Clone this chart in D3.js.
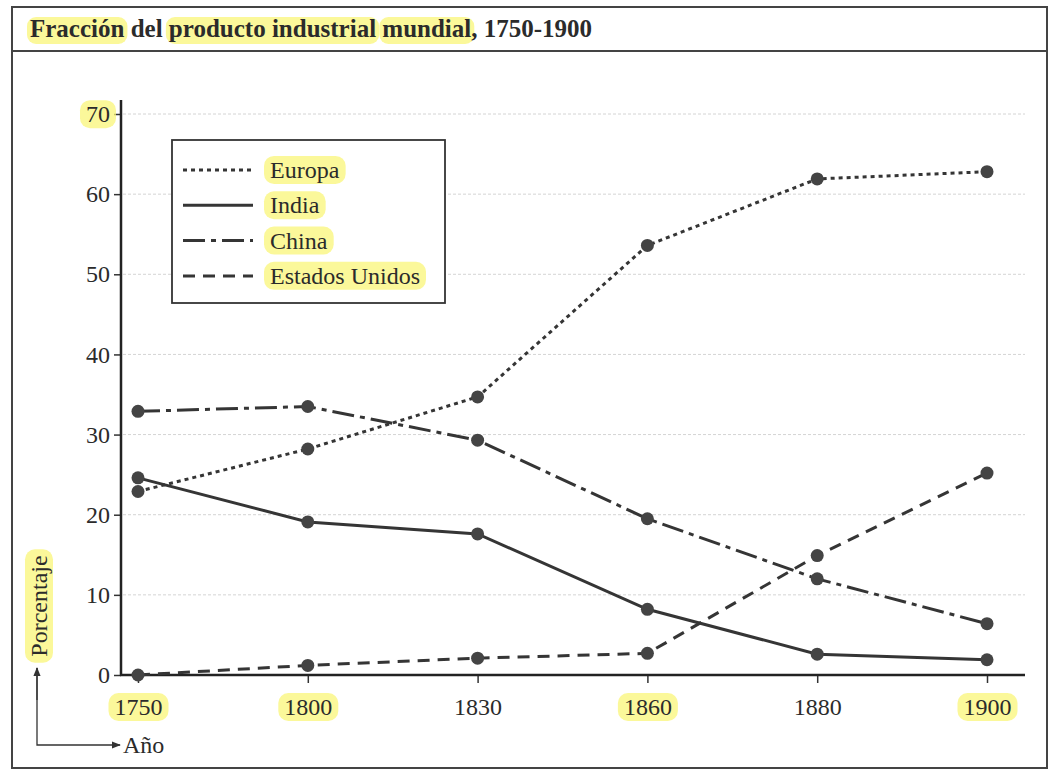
<!DOCTYPE html>
<html>
<head>
<meta charset="utf-8">
<script src="https://cdn.jsdelivr.net/npm/d3@7"></script>
<style>
  body { margin: 0; background: #fff; }
  svg text { font-family: "Liberation Serif", "DejaVu Serif", serif; fill: #2b2b2b; }
</style>
</head>
<body>
<svg id="chart" width="1052" height="771"></svg>
<script>
// Data (share of world industrial output, %)
var years    = ["1750", "1800", "1830", "1860", "1880", "1900"];
var europa   = [22.9, 28.2, 34.7, 53.6, 61.9, 62.8];
var india    = [24.6, 19.1, 17.6, 8.2, 2.6, 1.9];
var china    = [32.9, 33.5, 29.3, 19.5, 12.0, 6.4];
var eeuu     = [0.0, 1.2, 2.1, 2.7, 14.9, 25.2];
var yTicks   = [0, 10, 20, 30, 40, 50, 60, 70];
var seriesNames = ["Europa", "India", "China", "Estados Unidos"];
var title = "Fracción del producto industrial mundial, 1750-1900";

var dashes = {
	"Europa": "4,4",
	"India": null,
	"China": "22,6,5,6",
	"Estados Unidos": "12,8"
};

var series = [
	{ name: "Europa", values: europa },
	{ name: "India", values: india },
	{ name: "China", values: china },
	{ name: "Estados Unidos", values: eeuu }
];

var svg = d3.select("#chart");
var hl = "rgba(250,246,120,0.75)";

var x = d3.scalePoint().domain(years).range([138, 987]);
var y = d3.scaleLinear().domain([0, 70]).range([675, 114]);

var titleHl = svg.append("g");

// frame + title bar
svg.append("rect")
	.attr("x", 12).attr("y", 7)
	.attr("width", 1035).attr("height", 761)
	.attr("fill", "none").attr("stroke", "#444").attr("stroke-width", 2);
svg.append("line")
	.attr("x1", 12).attr("x2", 1047).attr("y1", 51).attr("y2", 51)
	.attr("stroke", "#444").attr("stroke-width", 2);

var titleText = svg.append("text")
	.attr("x", 30).attr("y", 37)
	.style("font-size", "25px").style("font-weight", "bold")
	.text(title);

// highlighted parts of the title
["Fracción", "producto industrial", "mundial"].forEach(function(w) {
	var i = title.indexOf(w);
	var node = titleText.node();
	var x0 = 30 + (i > 0 ? node.getSubStringLength(0, i) : 0);
	var wd = node.getSubStringLength(i, w.length);
	titleHl.append("rect")
		.attr("x", x0 - 3).attr("y", 17).attr("width", wd + 6).attr("height", 27)
		.attr("rx", 9).attr("fill", hl);
});

// puts a highlighter mark behind a text, in the text's own coordinates
function highlightText(sel) {
	sel.each(function() {
		var node = this;
		var b = node.getBBox();
		d3.select(node.parentNode).insert("rect", function() { return node; })
			.attr("transform", node.getAttribute("transform"))
			.attr("x", b.x - 6).attr("y", b.y - 1)
			.attr("width", b.width + 12).attr("height", b.height + 2)
			.attr("rx", 10).attr("fill", hl);
	});
}

// grid
svg.append("g").selectAll("line")
	.data(yTicks.filter(function(d) { return d > 0; }))
	.enter().append("line")
	.attr("x1", 123).attr("x2", 1025)
	.attr("y1", function(d) { return y(d); })
	.attr("y2", function(d) { return y(d); })
	.attr("stroke", "#d4d4d4").attr("stroke-width", 1)
	.attr("stroke-dasharray", "3,2");

// axes
var yAxis = svg.append("g")
	.attr("transform", "translate(121,0)")
	.call(d3.axisLeft(y).tickValues(yTicks).tickSize(7).tickSizeOuter(0).tickPadding(4));
yAxis.select(".domain").remove();
yAxis.selectAll(".tick line").attr("stroke", "#333").attr("stroke-width", 1.5);
yAxis.selectAll("text").style("font-size", "24px").attr("fill", "#333");

var xAxis = svg.append("g")
	.attr("transform", "translate(0,675)")
	.call(d3.axisBottom(x).tickSize(8).tickSizeOuter(0).tickPadding(15));
xAxis.select(".domain").remove();
xAxis.selectAll(".tick line").attr("stroke", "#333").attr("stroke-width", 1.5);
xAxis.selectAll("text").style("font-size", "24px").attr("fill", "#333");

svg.append("line")
	.attr("x1", 121).attr("x2", 121).attr("y1", 100).attr("y2", 676)
	.attr("stroke", "#222").attr("stroke-width", 2.5);
svg.append("line")
	.attr("x1", 120).attr("x2", 1025).attr("y1", 675).attr("y2", 675)
	.attr("stroke", "#222").attr("stroke-width", 2.5);

highlightText(xAxis.selectAll(".tick text").filter(function(d) { return d != "1830" && d != "1880"; }));
highlightText(yAxis.selectAll(".tick text").filter(function(d) { return d == 70; }));

// lines + markers
var line = d3.line()
	.x(function(d, i) { return x(years[i]); })
	.y(function(d) { return y(d); });

var g = svg.append("g").selectAll("g")
	.data(series).enter().append("g");

g.append("path")
	.attr("d", function(d) { return line(d.values); })
	.attr("fill", "none")
	.attr("stroke", "#353535")
	.attr("stroke-width", 3)
	.attr("stroke-dasharray", function(d) { return dashes[d.name]; });

g.selectAll("circle")
	.data(function(d) { return d.values; })
	.enter().append("circle")
	.attr("cx", function(d, i) { return x(years[i]); })
	.attr("cy", function(d) { return y(d); })
	.attr("r", 6.5)
	.attr("fill", "#444");

// legend
var legend = svg.append("g");
legend.append("rect")
	.attr("x", 172).attr("y", 140).attr("width", 273).attr("height", 163)
	.attr("fill", "#fff").attr("stroke", "#333").attr("stroke-width", 1.8);

var items = legend.selectAll("g.item")
	.data(seriesNames).enter().append("g")
	.attr("class", "item")
	.attr("transform", function(d, i) { return "translate(183," + (170 + i * 35.3) + ")"; });

items.append("line")
	.attr("x1", 0).attr("x2", 70)
	.attr("stroke", "#353535").attr("stroke-width", 3)
	.attr("stroke-dasharray", function(d) { return dashes[d]; });

var legendLabels = items.append("text")
	.attr("x", 87).attr("dy", "0.33em")
	.style("font-size", "24px").attr("fill", "#333")
	.text(function(d) { return d; });
highlightText(legendLabels);

// little axis key at bottom left
var defs = svg.append("defs");
defs.append("marker")
	.attr("id", "arr").attr("viewBox", "0 0 10 10")
	.attr("refX", 9).attr("refY", 5)
	.attr("markerWidth", 7).attr("markerHeight", 7)
	.attr("orient", "auto")
	.append("path").attr("d", "M0,1 L10,5 L0,9 Z").attr("fill", "#333");

svg.append("path")
	.attr("d", "M37,668 L37,745 L120,745")
	.attr("fill", "none").attr("stroke", "#333").attr("stroke-width", 1.3)
	.attr("marker-end", "url(#arr)");
svg.append("path")
	.attr("d", "M37,700 L37,668")
	.attr("fill", "none").attr("stroke", "#333").attr("stroke-width", 1.3)
	.attr("marker-end", "url(#arr)");

svg.append("text")
	.attr("x", 123).attr("y", 753)
	.style("font-size", "24px").attr("fill", "#333")
	.text("Año");

var porc = svg.append("g")
	.attr("transform", "translate(47,606) rotate(-90)")
	.append("text")
	.attr("text-anchor", "middle")
	.style("font-size", "24px").attr("fill", "#555")
	.text("Porcentaje");
highlightText(porc);
</script>
</body>
</html>
